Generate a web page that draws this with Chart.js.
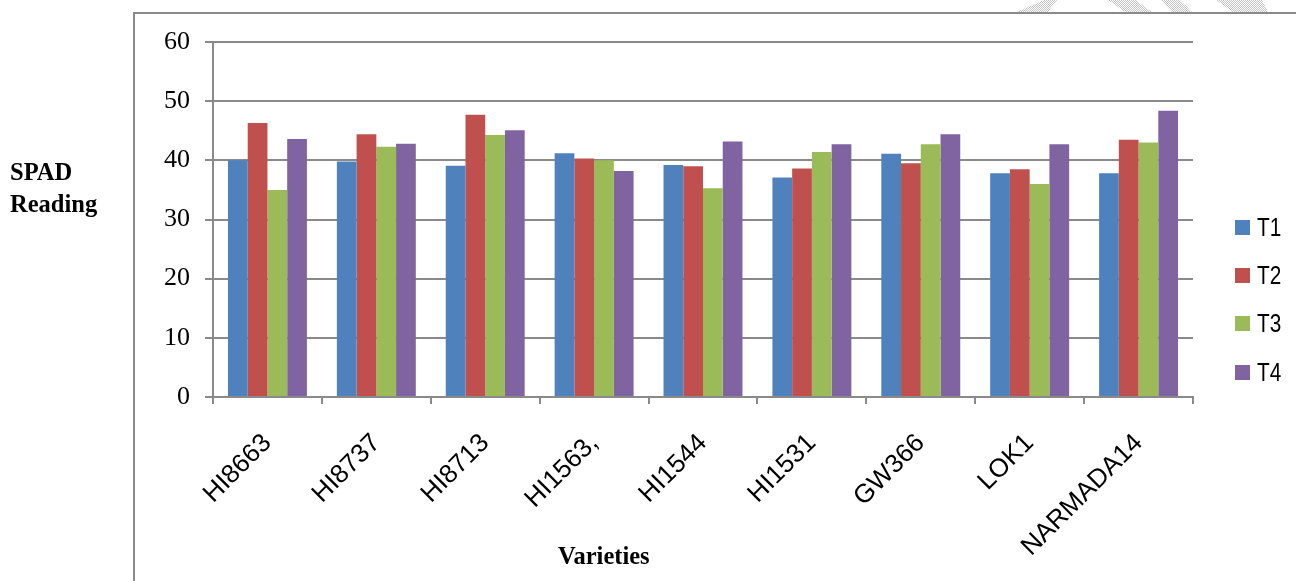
<!DOCTYPE html>
<html>
<head>
<meta charset="utf-8">
<title>SPAD Reading</title>
<script src="https://cdn.jsdelivr.net/npm/chart.js@4.4.1/dist/chart.umd.min.js"></script>
<style>
  html, body { margin: 0; padding: 0; background: #fff; }
  #wrap { position: relative; width: 1296px; height: 581px; overflow: hidden; }
  #frame {
    position: absolute; left: 133px; top: 12px; width: 2000px; height: 2000px;
    border-left: 2px solid #8a8a8a; border-top: 2px solid #8a8a8a;
  }
  .stripe {
    position: absolute; top: 0; height: 12px;
    background: repeating-conic-gradient(#c4c4c4 0 25%, #fff 0 50%) 0 0 / 2px 2px;
  }
  #chart { position: absolute; left: 0; top: 0; }
  .side-title {
    position: absolute; font-family: "Liberation Serif", "Times New Roman", serif;
    font-weight: bold; font-size: 24.5px; color: #000; white-space: nowrap;
  }
  #legend { position: absolute; left: 1235px; top: 0; margin: 0; padding: 0; list-style: none; }
  #legend li { position: absolute; left: 0; height: 22px; white-space: nowrap; }
  #legend .box { position: absolute; left: 0; top: 3px; width: 15px; height: 15px; }
  #legend .txt {
    position: absolute; left: 22px; top: -5px; line-height: 30px;
    font-family: "Liberation Sans Narrow", "Arial Narrow", "Liberation Sans", Arial, sans-serif;
    font-size: 26px; color: #000; transform: scaleX(0.8); transform-origin: left center;
  }
</style>
</head>
<body>
<div id="wrap">
  <div id="frame"></div>
  <div class="stripe" style="left:1017px;width:40px;clip-path:polygon(0 100%,27px 0,40px 0,31px 100%)"></div>
  <div class="stripe" style="left:1108px;width:44px;clip-path:polygon(0 0,27px 0,44px 100%,17px 100%)"></div>
  <div class="stripe" style="left:1161px;width:31px;clip-path:polygon(0 0,19px 0,31px 100%,11px 100%)"></div>
  <div class="stripe" style="left:1216px;width:52px;clip-path:polygon(0 0,46px 0,52px 100%,17px 100%)"></div>
  <canvas id="chart" width="1296" height="581"></canvas>
  <div class="side-title" style="left:10px;top:156px;line-height:32px">SPAD<br>Reading</div>
  <div class="side-title" style="left:558px;top:542px">Varieties</div>
  <ul id="legend"></ul>
</div>
<script>
// varieties on the x axis
const varieties = ["HI8663", "HI8737", "HI8713", "HI1563,", "HI1544", "HI1531", "GW366", "LOK1", "NARMADA14"];

// SPAD readings per treatment
const t1_values = [40.0, 39.8, 39.1, 41.2, 39.2, 37.1, 41.1, 37.8, 37.8];
const t2_values = [46.3, 44.4, 47.7, 40.3, 39.0, 38.6, 39.5, 38.5, 43.5];
const t3_values = [35.0, 42.3, 44.3, 40.0, 35.3, 41.4, 42.7, 36.0, 43.0];
const t4_values = [43.6, 42.8, 45.1, 38.2, 43.2, 42.7, 44.4, 42.7, 48.4];

const series_names = ["T1", "T2", "T3", "T4"];
const series_colors = ["#4f81bd", "#c0504d", "#9bbb59", "#8064a2"];

// y axis range
const y_min = 0;
const y_max = 60;
const y_step = 10;

const axis_grey = "#8a8a8a";

const all_values = [t1_values, t2_values, t3_values, t4_values];
const datasets = all_values.map(function (vals, i) {
  return {
    label: series_names[i],
    data: vals,
    backgroundColor: series_colors[i],
    borderWidth: 0,
    categoryPercentage: 0.725,
    barPercentage: 1.0,
  };
});

const ctx = document.getElementById("chart").getContext("2d");
const spadChart = new Chart(ctx, {
  type: "bar",
  data: { labels: varieties, datasets: datasets },
  options: {
    responsive: false,
    animation: false,
    layout: { padding: { left: 134, top: 42, right: 103, bottom: 0 } },
    plugins: {
      legend: { display: false },
      tooltip: { enabled: false },
    },
    scales: {
      x: {
        afterFit: function (scale) { scale.height = 184; },
        grid: {
          display: true,
          drawOnChartArea: false,
          drawTicks: true,
          tickLength: 7,
          offset: true,
          color: axis_grey,
          lineWidth: 2,
        },
        border: { display: true, color: axis_grey, width: 2 },
        ticks: {
          autoSkip: false,
          minRotation: 45,
          maxRotation: 45,
          padding: 24,
          color: "#000",
          font: { family: "'Liberation Sans', Arial, sans-serif", size: 26 },
        },
      },
      y: {
        min: y_min,
        max: y_max,
        afterFit: function (scale) { scale.width = 79; },
        grid: {
          color: axis_grey,
          lineWidth: 2,
          drawTicks: true,
          tickLength: 8,
        },
        border: { display: true, color: axis_grey, width: 2 },
        ticks: {
          stepSize: y_step,
          padding: 15,
          color: "#000",
          font: { family: "'Liberation Serif', 'Times New Roman', serif", size: 26 },
        },
      },
    },
  },
});

// legend on the right, one row per treatment
const legend_ul = document.getElementById("legend");
const legend_top = 217;
const legend_gap = 48.2;
series_names.forEach(function (name, i) {
  let li = document.createElement("li");
  li.style.top = (legend_top + i * legend_gap) + "px";
  li.innerHTML = `<span class="box" style="background:${series_colors[i]}"></span><span class="txt">${name}</span>`;
  legend_ul.appendChild(li);
});
</script>
</body>
</html>
